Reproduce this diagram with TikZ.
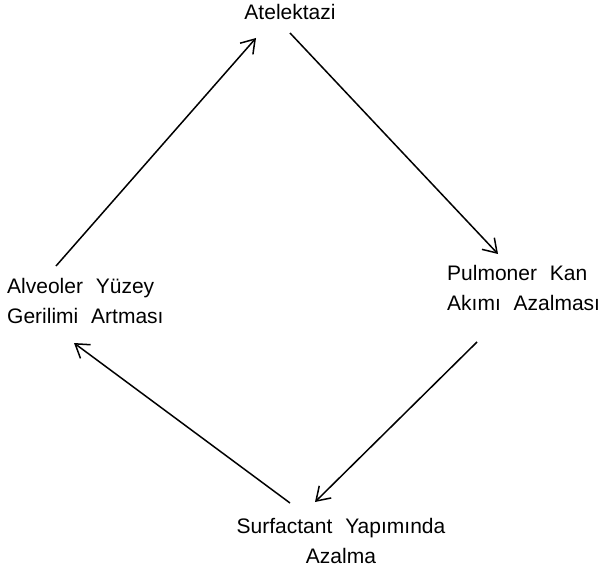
\documentclass[tikz,border=0pt]{standalone}
\usepackage{fontspec}
\setmainfont{Liberation Sans}[WordSpace=2.2]
\usetikzlibrary{arrows.meta}
\tikzset{
  lbl/.style={inner sep=0pt, font=\fontsize{21}{29.5}\selectfont},
  conn/.style={line width=1.5pt, -{Straight Barb[length=13pt,width=17pt,line width=1.5pt]}}
}
\begin{document}
\begin{tikzpicture}[x=1pt,y=-1pt]
\useasboundingbox (0,0) rectangle (600,567);
\node[lbl, anchor=base] (ate) at (290,20) {Atelektazi};
\node[lbl, anchor=base west, align=left] (pul) at (447,310) {Pulmoner Kan\\Akımı Azalması};
\node[lbl, anchor=base west, align=left] (alv) at (7,323) {Alveoler Yüzey\\Gerilimi Artması};
\node[lbl, anchor=base, align=center] (surf) at (341,563) {Surfactant Yapımında\\Azalma};
\coordinate (a1s) at (56,266);
\coordinate (a1e) at (256,38);
\coordinate (a2s) at (290,33);
\coordinate (a2e) at (498,254);
\coordinate (a3s) at (477,342);
\coordinate (a3e) at (315,502);
\coordinate (a4s) at (290,503);
\coordinate (a4e) at (74,343);
\draw[conn] (a1s) -- (a1e);
\draw[conn] (a2s) -- (a2e);
\draw[conn] (a3s) -- (a3e);
\draw[conn] (a4s) -- (a4e);
\end{tikzpicture}
\end{document}
